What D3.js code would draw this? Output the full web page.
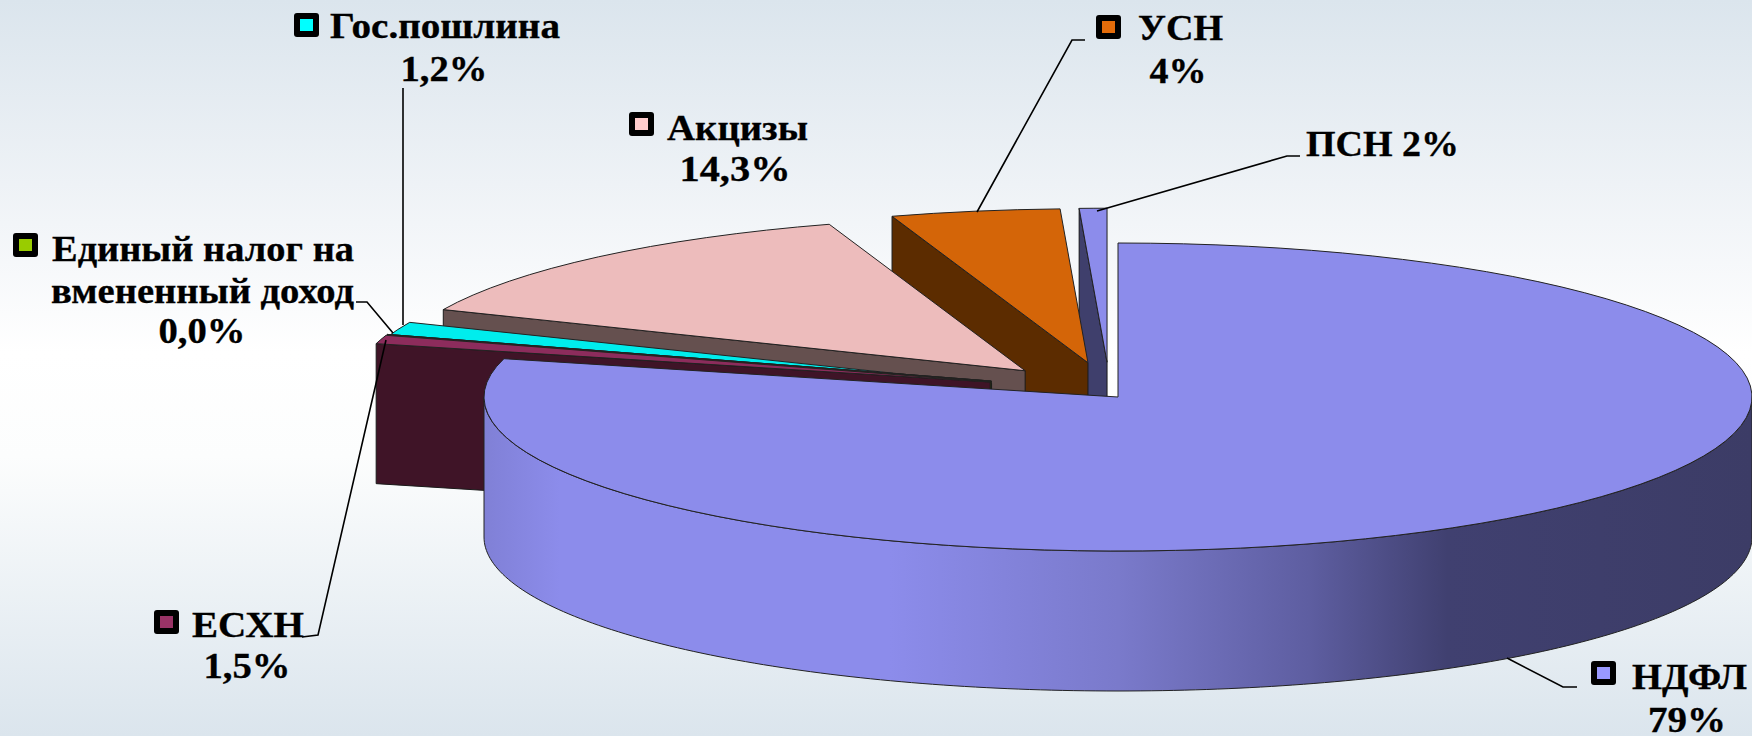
<!DOCTYPE html>
<html lang="ru">
<head>
<meta charset="utf-8">
<title>Налоговые доходы</title>
<script src="https://d3js.org/d3.v7.min.js"></script>
<style>
  html, body { margin: 0; padding: 0; background: #fff; overflow: hidden; }
  svg { display: block; }
  text { font-family: "Liberation Serif", serif; font-weight: bold; font-size: 35px; fill: #000; stroke: #000; stroke-width: 0.3; }
  .leader { fill: none; stroke: #000; stroke-width: 1.6; }
</style>
</head>
<body>
<svg id="chart" width="1752" height="736"></svg>
<script>
// slices in drawing order, clockwise from 12 o'clock
var names = ["НДФЛ", "ЕСХН", "Единый налог на вмененный доход", "Гос.пошлина", "Акцизы", "УСН", "ПСН"];
var percentLabels = ["79%", "1,5%", "0,0%", "1,2%", "14,3%", "4%", "2%"];
// slice widths as measured on the picture (the printed labels add up to 102%)
var drawnShare = [79, 0.9, 0, 1.6, 13.5, 4.3, 0.7];
var explode = [0, 135, 135, 135, 135, 135, 135];
// the original has some perspective, these pull the pieces back in line
var nudgeX = [0, 2, 2, 0, -2, -6, -8];
var nudgeY = [0, -6, -6, -2, -2, -2, -2];

var topColors = ["#8c8ceb", "#8c2c5c", "#90bf00", "#00eded", "#edbcbc", "#d46508", "#8c8ceb"];
var wallColors = ["#3f3f6c", "#3f1427", "#405500", "#002020", "#65504f", "#5c2c00", "#3f3f6c"];
var keyColors = ["#9999ff", "#993366", "#99cc00", "#00ffff", "#ffcccc", "#e46c0a", null];

var svg = d3.select("#chart");
var cx = 1118, cy = 397, rx = 634, ry = 154, depth = 140;
var squash = ry / rx;

var defs = svg.append("defs");

var bg = defs.append("linearGradient").attr("id", "bg").attr("x1", 0).attr("y1", 0).attr("x2", 0).attr("y2", 1);
[[0, "#dbe5ed"], [0.25, "#eef2f6"], [0.48, "#ffffff"], [0.62, "#fcfdfd"], [1, "#dbe5ed"]].forEach(function(s) {
  bg.append("stop").attr("offset", s[0]).attr("stop-color", s[1]);
});

// the wall is drawn inside a group centred on the pie, so x runs -rx..rx
var wallGrad = defs.append("linearGradient").attr("id", "wallGrad").attr("gradientUnits", "userSpaceOnUse")
  .attr("x1", -rx).attr("x2", rx).attr("y1", 0).attr("y2", 0);
[[0, "#8080d6"], [0.06, "#8c8ceb"], [0.32, "#8c8ceb"], [0.5, "#7a7acb"], [0.65, "#5e5ea1"], [0.76, "#404070"], [1, "#3c3c66"]].forEach(function(s) {
  wallGrad.append("stop").attr("offset", s[0]).attr("stop-color", s[1]);
});

svg.append("rect").attr("width", 1752).attr("height", 736).attr("fill", "url(#bg)");

var pie = d3.pie().sort(null).value(function(d) { return d; });
var arcs = pie(drawnShare);
var arc = d3.arc().innerRadius(0).outerRadius(rx);

// pie angle -> point on the squashed ellipse, relative to slice apex
function px(a, r) { return r * Math.sin(a); }
function py(a, r) { return -r * Math.cos(a) * squash; }

var slices = arcs.map(function(a, i) {
  var mid = (a.startAngle + a.endAngle) / 2;
  return { arc: a, i: i, ox: cx + px(mid, explode[i]) + nudgeX[i], oy: cy + py(mid, explode[i]) + nudgeY[i] };
});

var wallLine = d3.line();
var wallArea = d3.area()
  .x(function(a) { return px(a, rx); })
  .y0(function(a) { return py(a, rx); })
  .y1(function(a) { return py(a, rx) + depth; });

// back to front: small exploded slices first, the big one on top of them
slices.slice(1).reverse().forEach(function(s) {
  var g = svg.append("g").attr("transform", "translate(" + s.ox + "," + s.oy + ")");
  var a0 = s.arc.startAngle;
  var ex = px(a0, rx), ey = py(a0, rx);
  g.append("path")
    .attr("d", wallLine([[0, 0], [ex, ey], [ex, ey + depth], [0, depth]]) + "Z")
    .attr("fill", wallColors[s.i])
    .attr("stroke", "#1a1a1a")
    .attr("stroke-width", 1);
  g.append("g").attr("transform", "scale(1," + squash + ")")
    .append("path")
    .attr("d", arc(s.arc))
    .attr("fill", topColors[s.i])
    .attr("stroke", "#222")
    .attr("stroke-width", 1)
    .attr("vector-effect", "non-scaling-stroke");
});

// НДФЛ
var main = slices[0];
var mainG = svg.append("g").attr("transform", "translate(" + main.ox + "," + main.oy + ")");
mainG.append("path")
  .attr("d", wallArea(d3.range(90, 270.5, 1).map(function(d) { return d * Math.PI / 180; })))
  .attr("fill", "url(#wallGrad)")
  .attr("stroke", "#222")
  .attr("stroke-width", 1);
mainG.append("g").attr("transform", "scale(1," + squash + ")")
  .append("path")
  .attr("d", arc(main.arc))
  .attr("fill", topColors[0])
  .attr("stroke", "#222")
  .attr("stroke-width", 1)
  .attr("vector-effect", "non-scaling-stroke");

// label placement: key square, text lines (anchor x, baseline y, anchor, width), leader polyline
// the original text is stretched sideways, so each line gets its measured width
var labelLayout = [
  { key: [1591, 661], lines: [[1632, 689, "start", 115], [1687, 732, "middle", 78]], leader: [[1577, 687], [1563, 687], [1507, 658]] },
  { key: [154, 610], lines: [[192, 637, "start", 112], [247, 678, "middle", 87]], leader: [[302, 637], [318, 635], [386, 340]] },
  { key: [13, 233], lines: [[52, 261, "start", 302], [51, 303, "start", 303], [202, 343, "middle", 87]], leader: [[356, 302], [367, 302], [393, 333]] },
  { key: [294, 13], lines: [[330, 38, "start", 230], [444, 81, "middle", 87]], leader: [[403, 88], [403, 325]] },
  { key: [629, 112], lines: [[667, 140, "start", 141], [735, 181, "middle", 111]], leader: null },
  { key: [1096, 15], lines: [[1138, 40, "start", 85], [1178, 83, "middle", 57]], leader: [[1085, 40], [1072, 40], [977, 212]] },
  { key: null, lines: [[1306, 156, "start", 153]], leader: [[1300, 156], [1287, 156], [1097, 211]] }
];

var labelLines = [
  [names[0], percentLabels[0]],
  [names[1], percentLabels[1]],
  ["Единый налог на", "вмененный доход", percentLabels[2]],
  [names[3], percentLabels[3]],
  [names[4], percentLabels[4]],
  [names[5], percentLabels[5]],
  [names[6] + " " + percentLabels[6]]
];

var line = d3.line();
labelLayout.forEach(function(l, i) {
  if (l.leader) svg.append("path").attr("class", "leader").attr("d", line(l.leader));
  if (l.key) {
    svg.append("rect").attr("x", l.key[0]).attr("y", l.key[1]).attr("width", 25).attr("height", 24).attr("rx", 3).attr("fill", "#000");
    svg.append("rect").attr("x", l.key[0] + 6).attr("y", l.key[1] + 6).attr("width", 13).attr("height", 12).attr("fill", keyColors[i]);
  }
  l.lines.forEach(function(t, j) {
    svg.append("text").attr("x", t[0]).attr("y", t[1]).attr("text-anchor", t[2])
      .attr("textLength", t[3]).attr("lengthAdjust", "spacingAndGlyphs")
      .text(labelLines[i][j]);
  });
});
</script>
</body>
</html>
